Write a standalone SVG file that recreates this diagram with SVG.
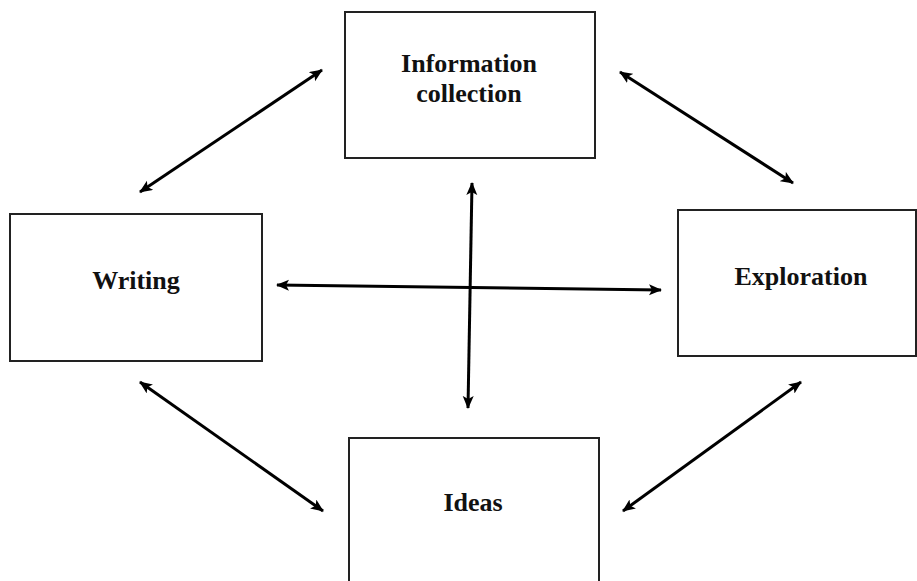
<svg xmlns="http://www.w3.org/2000/svg" width="917" height="581" viewBox="0 0 917 581">
  <style>
    .box { fill: #ffffff; stroke: #222222; stroke-width: 2; }
    .label { font-family: "Liberation Serif", "Times New Roman", serif; font-weight: bold; font-size: 26px; fill: #111111; text-anchor: middle; }
    .link { stroke: #000000; stroke-width: 3; fill: none; marker-start: url(#head); marker-end: url(#head); }
  </style>
  <defs>
    <marker id="head" markerUnits="userSpaceOnUse" markerWidth="14" markerHeight="12" refX="12" refY="5.5" orient="auto-start-reverse">
      <path d="M0,0 L13,5.5 L0,11 L3,5.5 z" fill="#000000"/>
    </marker>
  </defs>
  <rect width="917" height="581" fill="#ffffff"/>

  <g id="node-information">
    <rect class="box" x="345" y="12" width="250" height="146"/>
    <text class="label" x="469" y="72">Information</text>
    <text class="label" x="469" y="102">collection</text>
  </g>

  <g id="node-writing">
    <rect class="box" x="10" y="214" width="252" height="147"/>
    <text class="label" x="136" y="289">Writing</text>
  </g>

  <g id="node-exploration">
    <rect class="box" x="678" y="210" width="238" height="146"/>
    <text class="label" x="801" y="285">Exploration</text>
  </g>

  <g id="node-ideas">
    <rect class="box" x="349" y="438" width="250" height="150"/>
    <text class="label" x="473" y="511">Ideas</text>
  </g>

  <g id="connectors">
    <line class="link" x1="140" y1="192" x2="322" y2="70"/>
    <line class="link" x1="620" y1="72" x2="793" y2="183"/>
    <line class="link" x1="140" y1="382" x2="323" y2="511"/>
    <line class="link" x1="801" y1="382" x2="623" y2="511"/>
    <line class="link" x1="277" y1="285" x2="661" y2="290"/>
    <line class="link" x1="472" y1="183" x2="468" y2="408"/>
  </g>
</svg>
